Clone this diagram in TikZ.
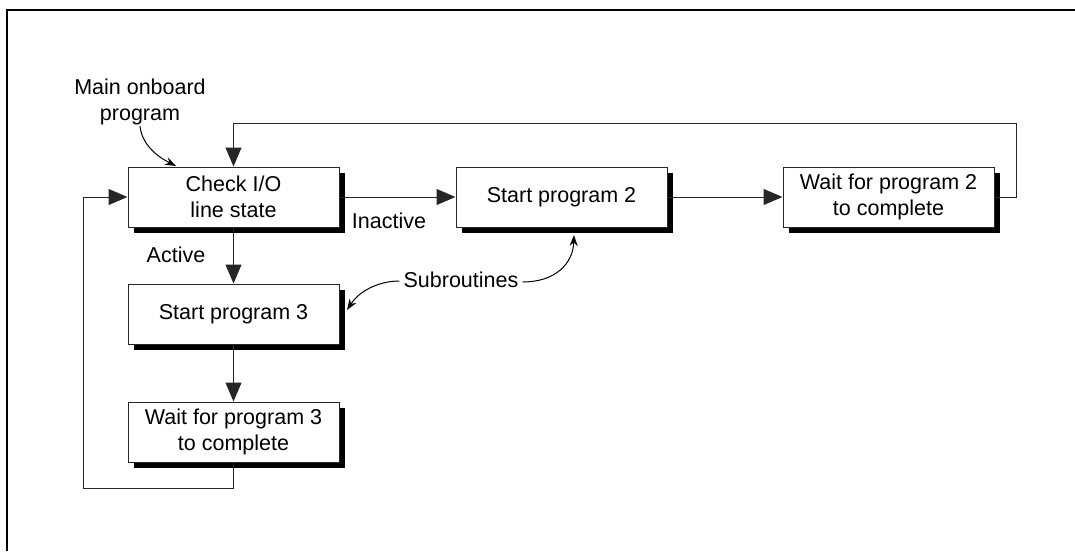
\documentclass[tikz,border=0pt]{standalone}
\usepackage{fontspec}
\setmainfont{Liberation Sans}
\usetikzlibrary{arrows.meta,shadows}
\tikzset{
  box/.style={draw=black!85, line width=1pt, fill=white, minimum width=211pt, minimum height=60pt,
    inner sep=0pt, align=center, font=\fontsize{21.5}{26}\selectfont,
    drop shadow={shadow xshift=5.5pt, shadow yshift=-5.5pt, fill=black, opacity=1}},
  lbl/.style={font=\fontsize{21.5}{26}\selectfont, align=center, inner sep=0pt},
  flow/.style={draw=black!85, line width=1pt, -{Triangle[length=19pt,width=16pt]}},
  pointer/.style={draw=black, line width=1pt, -{Stealth[length=11pt,width=8pt]}}
}
\begin{document}
\begin{tikzpicture}[x=1pt,y=-1pt]
\useasboundingbox (0,0) rectangle (1075,551);
\draw[line width=2pt] (7,551) -- (7,10) -- (1075,10);

\node[box] (check) at (233.5,197) {Check I/O\\line state};
\node[box] (s2) at (561.5,197) {Start program 2};
\node[box] (w2) at (888.5,197) {Wait for program 2\\to complete};
\node[box] (s3) at (233.5,314) {Start program 3};
\node[box] (w3) at (233.5,432) {Wait for program 3\\to complete};

\node[lbl] (main) at (140,102) {Main onboard\\program};
\node[lbl] (inactive) at (389,221) {Inactive};
\node[lbl] (active) at (176,255) {Active};
\node[lbl] (sub) at (461,280) {Subroutines};

\coordinate (r1) at (1016,197);
\coordinate (r2) at (1016,123);
\coordinate (r3) at (233.5,123);
\coordinate (l1) at (233.5,488);
\coordinate (l2) at (83,488);
\coordinate (l3) at (83,197);

\draw[flow] (check.east) -- (s2.west);
\draw[flow] (s2.east) -- (w2.west);
\draw[flow] (w2.east) -- (r1) -- (r2) -- (r3) -- (check.north);
\draw[flow] (check.south) -- (s3.north);
\draw[flow] (s3.south) -- (w3.north);
\draw[flow] (w3.south) -- (l1) -- (l2) -- (l3) -- (check.west);

\coordinate (ct) at (176,166);
\draw[pointer] (main.south) ++(0,1) .. controls (142,145) and (158,157) .. (ct);
\coordinate (s2b) at (574,235);
\draw[pointer] (sub.east) ++(4,2) .. controls (555,282) and (573,264) .. (s2b);
\coordinate (s3r) at (347,310);
\draw[pointer] (sub.west) ++(-4,1) .. controls (380,281) and (360,290) .. (s3r);
\end{tikzpicture}
\end{document}
